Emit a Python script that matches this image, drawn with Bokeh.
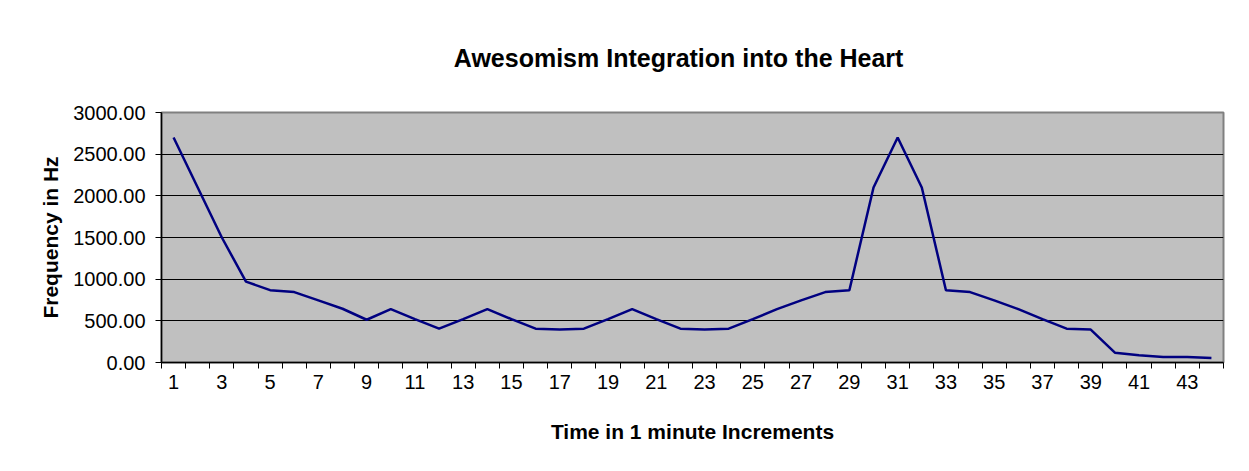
from bokeh.plotting import figure
from bokeh.models import FixedTicker, NumeralTickFormatter, Range1d, Title, ColumnDataSource, BoxAnnotation
from bokeh.embed import file_html
from bokeh.resources import INLINE

# Data
minutes = [1, 2, 3, 4, 5, 6, 7, 8, 9, 10, 11, 12, 13, 14, 15, 16, 17, 18, 19, 20, 21, 22,
           23, 24, 25, 26, 27, 28, 29, 30, 31, 32, 33, 34, 35, 36, 37, 38, 39, 40, 41, 42, 43, 44]
frequency_hz = [2700, 2100, 1500, 970, 868, 845, 745, 645, 513, 640,
                520, 406, 520, 640, 520, 406, 395, 406, 520, 640,
                520, 406, 395, 406, 520, 640, 745, 845, 868, 2100,
                2700, 2100, 868, 845, 745, 640, 520, 406, 395, 118,
                86, 66, 66, 55]
x_tick_labels = [1, 3, 5, 7, 9, 11, 13, 15, 17, 19, 21, 23, 25, 27, 29, 31, 33, 35, 37, 39, 41, 43]
y_ticks = [0, 500, 1000, 1500, 2000, 2500, 3000]

FONT = "Liberation Sans"
W, H = 1233, 455

p = figure(width=W, height=H, output_backend="svg", toolbar_location=None,
           x_range=Range1d(0.5, len(minutes) + 0.5), y_range=Range1d(0, 3000))

p.min_border_left = 161
p.min_border_right = 10
p.min_border_top = 108
p.min_border_bottom = 93

p.background_fill_color = "#C0C0C0"
p.border_fill_color = "white"
p.outline_line_color = "#808080"
p.outline_line_width = 2

# outer chart-area border
border = BoxAnnotation(left=3, right=W - 2, top=3, bottom=H - 2,
                       left_units="canvas", right_units="canvas",
                       top_units="canvas", bottom_units="canvas",
                       fill_alpha=0, line_color="black", line_width=1.2, level="overlay")
p.add_layout(border)

t = Title(text="Awesomism  Integration  into  the  Heart", align="center",
          text_font=FONT, text_font_size="25px", text_font_style="bold",
          text_color="black", standoff=82)
p.add_layout(t, "above")

src = ColumnDataSource(dict(x=minutes, y=frequency_hz))
p.line("x", "y", source=src, line_color="#000080", line_width=2.5)

# grid
p.xgrid.visible = False
p.ygrid.ticker = FixedTicker(ticks=y_ticks)
p.ygrid.grid_line_color = "black"
p.ygrid.grid_line_width = 1

# x axis
xa = p.xaxis[0]
xa.ticker = FixedTicker(ticks=x_tick_labels,
                        minor_ticks=[m - 0.5 for m in minutes] + [minutes[-1] + 0.5])
xa.major_tick_line_color = None
xa.minor_tick_in = 0
xa.minor_tick_out = 6
xa.minor_tick_line_color = "black"
xa.axis_line_color = "black"
xa.axis_line_width = 1.5
xa.major_label_text_font = FONT
xa.major_label_text_font_size = "20px"
xa.major_label_text_color = "black"
xa.major_label_standoff = 6
xa.axis_label = "Time in 1 minute Increments"
xa.axis_label_text_font = FONT
xa.axis_label_text_font_size = "21px"
xa.axis_label_text_font_style = "bold"
xa.axis_label_text_color = "black"
xa.axis_label_standoff = 28

# y axis
ya = p.yaxis[0]
ya.ticker = FixedTicker(ticks=y_ticks)
ya.formatter = NumeralTickFormatter(format="0.00")
ya.major_tick_in = 0
ya.major_tick_out = 6
ya.major_tick_line_color = "black"
ya.minor_tick_line_color = None
ya.axis_line_color = "black"
ya.axis_line_width = 1.5
ya.major_label_text_font = FONT
ya.major_label_text_font_size = "20px"
ya.major_label_text_color = "black"
ya.major_label_standoff = 10
ya.axis_label = "Frequency in Hz"
ya.axis_label_text_font = FONT
ya.axis_label_text_font_size = "21px"
ya.axis_label_text_font_style = "bold"
ya.axis_label_text_color = "black"
ya.axis_label_standoff = 8

open("out.html", "w").write(file_html(p, INLINE))
